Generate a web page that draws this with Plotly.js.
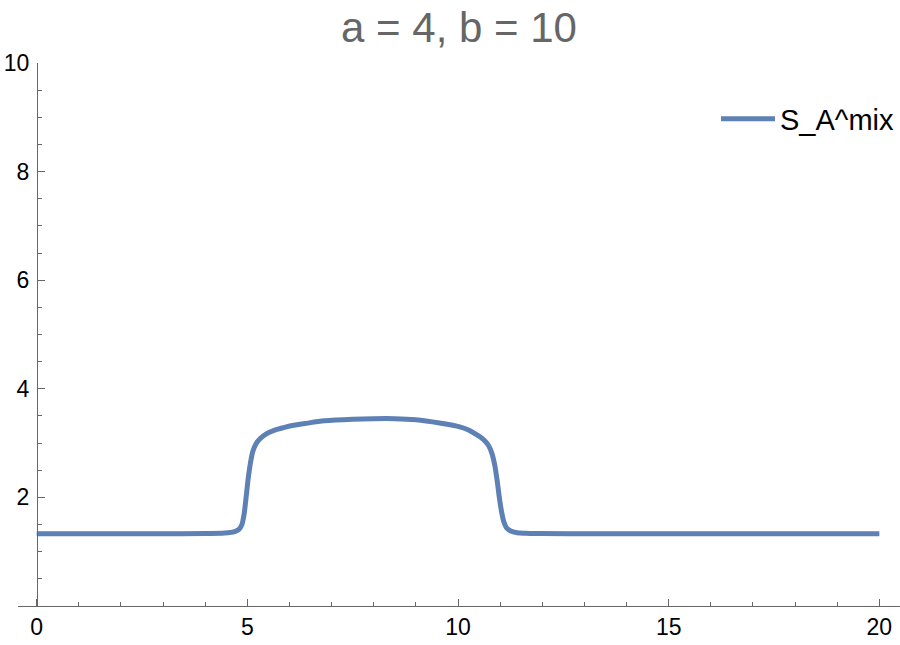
<!DOCTYPE html>
<html>
<head>
<meta charset="utf-8">
<script src="https://cdn.plot.ly/plotly-3.0.1.min.js"></script>
<style>
html,body{margin:0;padding:0;background:#fff;}
#chart{width:900px;height:645px;}
</style>
</head>
<body>
<div id="chart"></div>
<script>
// Data
const seriesName = "S_A^mix";
const titleText = "a = 4, b = 10";
const xValues = [0, 1, 2, 3, 4, 4.46, 4.7, 4.8, 4.87, 4.92, 4.97, 5.02, 5.07, 5.13, 5.2, 5.3, 5.45, 5.65, 5.88, 6.1, 6.36, 6.83, 7.5, 8.0, 8.5, 9.0, 9.56, 10.04, 10.25, 10.43, 10.6, 10.72, 10.8, 10.87, 10.93, 10.98, 11.03, 11.08, 11.15, 11.25, 11.4, 11.6, 11.93, 13, 15, 17, 20];
const yValues = [1.33, 1.33, 1.33, 1.33, 1.335, 1.344, 1.37, 1.41, 1.5, 1.68, 2.0, 2.35, 2.62, 2.85, 2.98, 3.08, 3.17, 3.24, 3.29, 3.33, 3.36, 3.41, 3.44, 3.45, 3.45, 3.43, 3.37, 3.30, 3.24, 3.16, 3.07, 2.96, 2.82, 2.6, 2.3, 2.0, 1.75, 1.57, 1.44, 1.38, 1.35, 1.34, 1.335, 1.33, 1.33, 1.33, 1.33];
const xTickVals = [0, 5, 10, 15, 20];
const yTickVals = [2, 4, 6, 8, 10];

const axisColor = "#666666";
const trace = {
  x: xValues,
  y: yValues,
  type: "scatter",
  mode: "lines",
  name: seriesName,
  line: {color: "#5E81B5", width: 5, shape: "spline", smoothing: 0.9},
  hoverinfo: "skip"
};

const layout = {
  width: 900,
  height: 645,
  paper_bgcolor: "#ffffff",
  plot_bgcolor: "#ffffff",
  margin: {l: 18, r: 0, t: 63, b: 39, pad: 0},
  font: {family: "Liberation Sans, Arial, sans-serif", color: "#000000"},
  title: {
    text: titleText,
    font: {size: 42, color: "#666666", family: "Liberation Sans, Arial, sans-serif"},
    x: (459 - 18) / 882, xref: "paper", xanchor: "center",
    y: 1 - 27/645, yref: "container", yanchor: "middle"
  },
  xaxis: {
    range: [-0.444, 20.49],
    domain: [0, 1],
    showgrid: false, zeroline: false,
    showline: true, linecolor: axisColor, linewidth: 1,
    ticks: "inside", ticklen: 7, tickwidth: 1, tickcolor: axisColor,
    tickvals: xTickVals,
    tickfont: {size: 23, color: "#000000"},
    minor: {dtick: 1, tick0: 0, ticks: "inside", ticklen: 4, tickwidth: 1, tickcolor: axisColor, showgrid: false},
    fixedrange: true
  },
  yaxis: {
    range: [0, 10],
    anchor: "free",
    position: (37 - 18) / 882,
    showgrid: false, zeroline: false,
    showline: true, linecolor: axisColor, linewidth: 1,
    ticks: "inside", ticklen: 7, tickwidth: 1, tickcolor: axisColor,
    tickvals: yTickVals,
    ticklabelstandoff: 3,
    tickfont: {size: 23, color: "#000000"},
    minor: {dtick: 0.5, tick0: 0, ticks: "inside", ticklen: 4, tickwidth: 1, tickcolor: axisColor, showgrid: false},
    fixedrange: true
  },
  showlegend: true,
  legend: {
    x: (716 - 18) / 882, xanchor: "left",
    y: (606 - 119) / 543, yanchor: "middle",
    bgcolor: "rgba(0,0,0,0)",
    font: {size: 29, color: "#000000"},
    itemwidth: 54
  }
};

Plotly.newPlot("chart", [trace], layout, {displayModeBar: false, staticPlot: true});
</script>
</body>
</html>
